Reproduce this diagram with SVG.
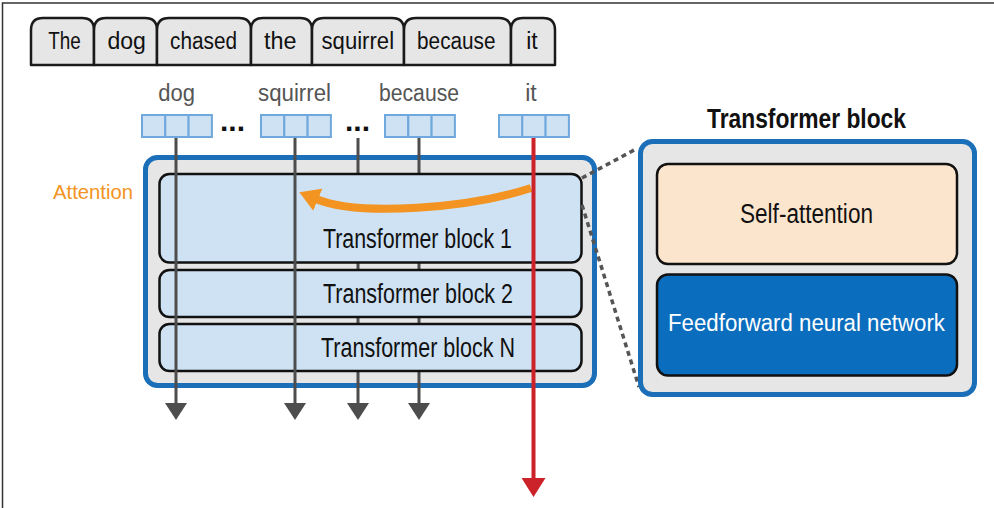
<svg xmlns="http://www.w3.org/2000/svg" width="994" height="508" viewBox="0 0 994 508">
<style>
.t{font-family:'Liberation Sans Narrow','Liberation Sans',Arial,sans-serif;text-anchor:middle}
.tab{fill:#e6e6e6;stroke:#1a1a1a;stroke-width:2.5;stroke-linejoin:round}
.tt{font-size:23px;fill:#111}
.lbl{font-size:23px;fill:#555}
.cell{fill:#cfe2f3;stroke:#6fa8dc;stroke-width:2}
.blk{fill:#cfe2f3;stroke:#111;stroke-width:2.5}
.bt{font-size:27px;fill:#111}
.gl{stroke:#4d4d4d;stroke-width:3;fill:none}
.dash{stroke:#555;stroke-width:3.5;fill:none;stroke-dasharray:5 4}
.cont{fill:#e6e6e6;stroke:#1a6fb8;stroke-width:5}
.dots{font-family:'Liberation Sans',Arial,sans-serif;font-size:30px;font-weight:bold;fill:#111;text-anchor:middle}
</style>
<defs>
<marker id="ag" markerUnits="userSpaceOnUse" markerWidth="18" markerHeight="22" refX="1" refY="11" orient="auto"><path d="M0,0 L17,11 L0,22 Z" fill="#4d4d4d"/></marker>
<marker id="ar" markerUnits="userSpaceOnUse" markerWidth="20" markerHeight="24" refX="1" refY="12" orient="auto"><path d="M0,0 L19,12 L0,24 Z" fill="#cc2229"/></marker>
<marker id="ao" markerUnits="userSpaceOnUse" markerWidth="21" markerHeight="24" refX="2" refY="12" orient="auto"><path d="M0,0 L20,12 L0,24 Z" fill="#f39422"/></marker>
</defs>

<g id="frame"><path d="M2.5,508 V3 H994" fill="none" stroke="#333" stroke-width="1.5"/></g>

<g id="tokens">
<g id="tok-the1"><path class="tab" d="M31,65 V30 Q31,18 43,18 H82 Q94,18 94,30 V65 Z"/><text class="t tt" x="64.5" y="49" textLength="32.5" lengthAdjust="spacingAndGlyphs">The</text></g>
<g id="tok-dog"><path class="tab" d="M94,65 V30 Q94,18 106,18 H145 Q157,18 157,30 V65 Z"/><text class="t tt" x="126.7" y="49" textLength="38.5" lengthAdjust="spacingAndGlyphs">dog</text></g>
<g id="tok-chased"><path class="tab" d="M157,65 V30 Q157,18 169,18 H239 Q251,18 251,30 V65 Z"/><text class="t tt" x="203.5" y="49" textLength="67" lengthAdjust="spacingAndGlyphs">chased</text></g>
<g id="tok-the2"><path class="tab" d="M251,65 V30 Q251,18 263,18 H300 Q312,18 312,30 V65 Z"/><text class="t tt" x="280.3" y="49" textLength="32.5" lengthAdjust="spacingAndGlyphs">the</text></g>
<g id="tok-squirrel"><path class="tab" d="M312,65 V30 Q312,18 324,18 H392 Q404,18 404,30 V65 Z"/><text class="t tt" x="357.8" y="49" textLength="72.5" lengthAdjust="spacingAndGlyphs">squirrel</text></g>
<g id="tok-because"><path class="tab" d="M404,65 V30 Q404,18 416,18 H499 Q511,18 511,30 V65 Z"/><text class="t tt" x="456.3" y="49" textLength="78.5" lengthAdjust="spacingAndGlyphs">because</text></g>
<g id="tok-it"><path class="tab" d="M511,65 V30 Q511,18 523,18 H543 Q555,18 555,30 V65 Z"/><text class="t tt" x="532" y="49">it</text></g>
</g>

<g id="embeddings">
<g id="emb-dog"><text class="t lbl" x="176.7" y="100.5" textLength="36.7" lengthAdjust="spacingAndGlyphs">dog</text><rect class="cell" x="142" y="115" width="23.3" height="22"/><rect class="cell" x="165.3" y="115" width="23.3" height="22"/><rect class="cell" x="188.6" y="115" width="23.3" height="22"/></g>
<text class="dots" x="232.5" y="131">...</text>
<g id="emb-squirrel"><text class="t lbl" x="294.5" y="100.5" textLength="73" lengthAdjust="spacingAndGlyphs">squirrel</text><rect class="cell" x="261" y="115" width="23.3" height="22"/><rect class="cell" x="284.3" y="115" width="23.3" height="22"/><rect class="cell" x="307.6" y="115" width="23.3" height="22"/></g>
<text class="dots" x="357.5" y="131">...</text>
<g id="emb-because"><text class="t lbl" x="419" y="100.5" textLength="80" lengthAdjust="spacingAndGlyphs">because</text><rect class="cell" x="385" y="115" width="23.3" height="22"/><rect class="cell" x="408.3" y="115" width="23.3" height="22"/><rect class="cell" x="431.6" y="115" width="23.3" height="22"/></g>
<g id="emb-it"><text class="t lbl" x="531" y="100.5">it</text><rect class="cell" x="499" y="115" width="23.3" height="22"/><rect class="cell" x="522.3" y="115" width="23.3" height="22"/><rect class="cell" x="545.6" y="115" width="23.3" height="22"/></g>
</g>

<g id="stack">
<rect class="cont" x="145.5" y="157.5" width="449" height="228" rx="12"/>
</g>

<g id="connectors-back">
<path class="gl" d="M358,138 V404" marker-end="url(#ag)"/>
<path class="gl" d="M419,138 V404" marker-end="url(#ag)"/>
</g>

<g id="block1"><rect class="blk" x="159.5" y="174" width="422" height="88.5" rx="10"/><text class="t bt" x="417.5" y="248" textLength="189" lengthAdjust="spacingAndGlyphs">Transformer block 1</text></g>
<g id="block2"><rect class="blk" x="159.5" y="270" width="422" height="47" rx="10"/><text class="t bt" x="418" y="303" textLength="190" lengthAdjust="spacingAndGlyphs">Transformer block 2</text></g>
<g id="blockN"><rect class="blk" x="159.5" y="324" width="422" height="47" rx="10"/><text class="t bt" x="418" y="357" textLength="194" lengthAdjust="spacingAndGlyphs">Transformer block N</text></g>

<text id="attention-label" class="t" x="93" y="199" font-size="21" fill="#f39422" textLength="80" lengthAdjust="spacingAndGlyphs">Attention</text>

<g id="connectors">
<path class="gl" d="M176,138 V404" marker-end="url(#ag)"/>
<path class="gl" d="M295,138 V404" marker-end="url(#ag)"/>
<path d="M531,188 C470,208 360,217 316,199" fill="none" stroke="#f39422" stroke-width="8" marker-end="url(#ao)"/>
<path d="M533.5,138 V479" fill="none" stroke="#cc2229" stroke-width="4" marker-end="url(#ar)"/>
<path class="dash" d="M582,178 L636,149"/>
<path class="dash" d="M582,205 L639,387"/>
</g>

<g id="transformer-detail">
<text class="t" x="806.5" y="128" font-size="28" font-weight="bold" fill="#111" textLength="199" lengthAdjust="spacingAndGlyphs">Transformer block</text>
<rect class="cont" x="640.5" y="141.5" width="334" height="253" rx="12"/>
<g id="self-attention"><rect x="657" y="164" width="300" height="100" rx="11" fill="#fce5cd" stroke="#111" stroke-width="2.5"/><text class="t" x="806.5" y="223" font-size="27" fill="#111" textLength="133" lengthAdjust="spacingAndGlyphs">Self-attention</text></g>
<g id="ffn"><rect x="657" y="274.5" width="300" height="101" rx="11" fill="#0b6dbd" stroke="#111" stroke-width="2.5"/><text class="t" x="806.5" y="331" font-size="23.5" fill="#fff" textLength="277" lengthAdjust="spacingAndGlyphs">Feedforward neural network</text></g>
</g>
</svg>
